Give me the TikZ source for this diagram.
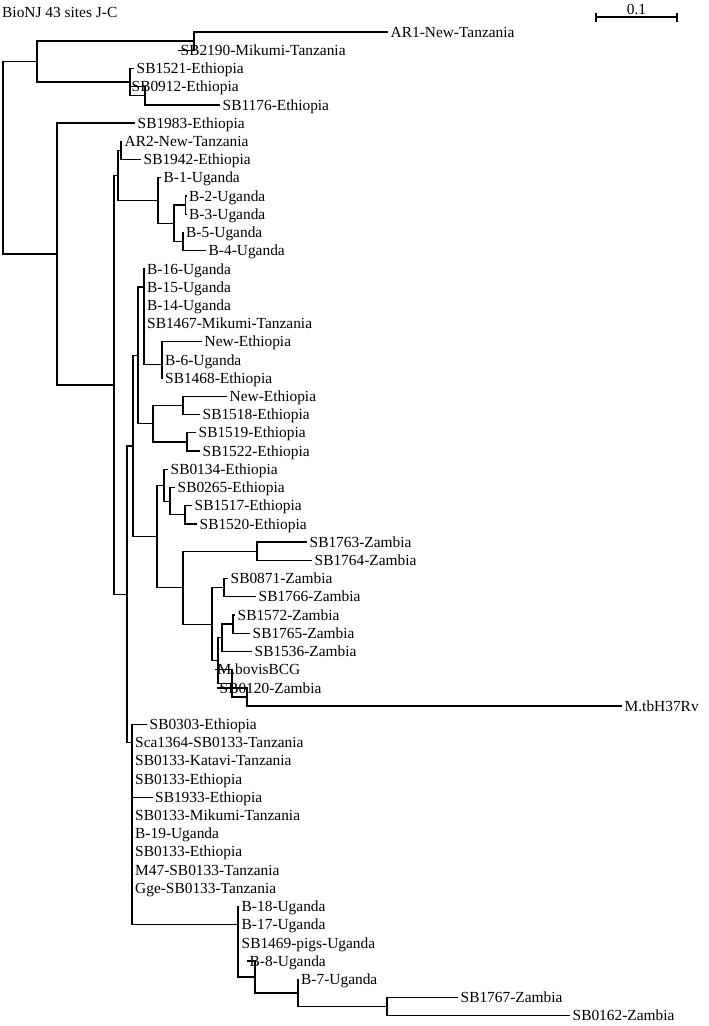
\documentclass[tikz,border=0pt]{standalone}
\usepackage{fontspec}
\setmainfont{Liberation Serif}
\begin{document}
\begin{tikzpicture}[x=1pt,y=-1pt,
  br/.style={line width=1.3pt, black},
  lbl/.style={anchor=west, inner xsep=2.5pt, inner ysep=0pt, text height=10.2pt, text depth=0pt},
  every node/.style={font=\fontsize{15.4}{18}\selectfont}]
\useasboundingbox (0,0) rectangle (709,1026);
% title and scale bar
\node[anchor=base west, inner sep=0pt] (title) at (2,17.5) {BioNJ 43 sites J-C};
\coordinate (sb1) at (596,17);
\coordinate (sb2) at (677,17);
\draw[br] (sb1) -- (sb2);
\draw[br] ([yshift=4.5pt]sb1) -- ([yshift=-4.5pt]sb1);
\draw[br] ([yshift=4.5pt]sb2) -- ([yshift=-4.5pt]sb2);
\node[anchor=base, inner sep=0pt] (sbl) at (636.5,14) {0.1};
% internal nodes
\coordinate (R0) at (3,157.8);
\coordinate (A) at (37,61.6);
\coordinate (A1) at (194,41.1);
\coordinate (C) at (130,82.1);
\coordinate (D) at (145,95.8);
\coordinate (B) at (57,254);
\coordinate (E) at (114,384.9);
\coordinate (F) at (118,175.5);
\coordinate (H) at (121,150.4);
\coordinate (I) at (158,200.5);
\coordinate (J) at (174,223.3);
\coordinate (K) at (185.5,205.1);
\coordinate (L) at (183,241.5);
\coordinate (G) at (127,594.3);
\coordinate (M) at (133,446);
\coordinate (N) at (138,355.4);
\coordinate (T) at (144,287.1);
\coordinate (U) at (162,364.5);
\coordinate (Q) at (153,423.7);
\coordinate (R) at (183,405.5);
\coordinate (S) at (187,441.9);
\coordinate (V) at (157,536.5);
\coordinate (W) at (164,485.2);
\coordinate (Y) at (170,501.2);
\coordinate (Z) at (185,514.8);
\coordinate (X) at (183,587.7);
\coordinate (AA) at (257,551.2);
\coordinate (BB) at (212,624.2);
\coordinate (CC) at (224,587.7);
\coordinate (GG) at (218,660.6);
\coordinate (EE) at (222,637.8);
\coordinate (FF) at (233,624.1);
\coordinate (HH) at (232,683.3);
\coordinate (II) at (247,697);
\coordinate (P) at (132,742.5);
\coordinate (JJ) at (238,924.7);
\coordinate (KK) at (255,977);
\coordinate (LL) at (298,993);
\coordinate (MM) at (387,1006.7);
% leaves
\node[lbl] (l1) at (388,32.0) {AR1-New-Tanzania};
\node[lbl] (l2) at (178,50.2) {SB2190-Mikumi-Tanzania};
\node[lbl] (l3) at (134,68.4) {SB1521-Ethiopia};
\node[lbl] (l4) at (129,86.7) {SB0912-Ethiopia};
\node[lbl] (l5) at (220,104.9) {SB1176-Ethiopia};
\node[lbl] (l6) at (135,123.1) {SB1983-Ethiopia};
\node[lbl] (l7) at (122,141.3) {AR2-New-Tanzania};
\node[lbl] (l8) at (141,159.5) {SB1942-Ethiopia};
\node[lbl] (l9) at (161,177.8) {B-1-Uganda};
\node[lbl] (l10) at (186.5,196.0) {B-2-Uganda};
\node[lbl] (l11) at (186.5,214.2) {B-3-Uganda};
\node[lbl] (l12) at (183.5,232.4) {B-5-Uganda};
\node[lbl] (l13) at (206,250.6) {B-4-Uganda};
\node[lbl] (l14) at (144.5,268.9) {B-16-Uganda};
\node[lbl] (l15) at (144.5,287.1) {B-15-Uganda};
\node[lbl] (l16) at (144.5,305.3) {B-14-Uganda};
\node[lbl] (l17) at (144.5,323.5) {SB1467-Mikumi-Tanzania};
\node[lbl] (l18) at (202,341.7) {New-Ethiopia};
\node[lbl] (l19) at (162.5,359.9) {B-6-Uganda};
\node[lbl] (l20) at (162.5,378.2) {SB1468-Ethiopia};
\node[lbl] (l21) at (227,396.4) {New-Ethiopia};
\node[lbl] (l22) at (200,414.6) {SB1518-Ethiopia};
\node[lbl] (l23) at (196,432.8) {SB1519-Ethiopia};
\node[lbl] (l24) at (200,451.0) {SB1522-Ethiopia};
\node[lbl] (l25) at (168,469.3) {SB0134-Ethiopia};
\node[lbl] (l26) at (175,487.5) {SB0265-Ethiopia};
\node[lbl] (l27) at (192,505.7) {SB1517-Ethiopia};
\node[lbl] (l28) at (197,523.9) {SB1520-Ethiopia};
\node[lbl] (l29) at (307,542.1) {SB1763-Zambia};
\node[lbl] (l30) at (312,560.3) {SB1764-Zambia};
\node[lbl] (l31) at (228,578.6) {SB0871-Zambia};
\node[lbl] (l32) at (256,596.8) {SB1766-Zambia};
\node[lbl] (l33) at (235,615.0) {SB1572-Zambia};
\node[lbl] (l34) at (250,633.2) {SB1765-Zambia};
\node[lbl] (l35) at (252,651.4) {SB1536-Zambia};
\node[lbl] (l36) at (215,669.7) {M.bovisBCG};
\node[lbl] (l37) at (217,687.9) {SB0120-Zambia};
\node[lbl] (l38) at (622,706.1) {M.tbH37Rv};
\node[lbl] (l39) at (147,724.3) {SB0303-Ethiopia};
\node[lbl] (l40) at (132.5,742.5) {Sca1364-SB0133-Tanzania};
\node[lbl] (l41) at (132.5,760.7) {SB0133-Katavi-Tanzania};
\node[lbl] (l42) at (132.5,779.0) {SB0133-Ethiopia};
\node[lbl] (l43) at (152.5,797.2) {SB1933-Ethiopia};
\node[lbl] (l44) at (132.5,815.4) {SB0133-Mikumi-Tanzania};
\node[lbl] (l45) at (132.5,833.6) {B-19-Uganda};
\node[lbl] (l46) at (132.5,851.8) {SB0133-Ethiopia};
\node[lbl] (l47) at (132.5,870.0) {M47-SB0133-Tanzania};
\node[lbl] (l48) at (132.5,888.3) {Gge-SB0133-Tanzania};
\node[lbl] (l49) at (239,906.5) {B-18-Uganda};
\node[lbl] (l50) at (239,924.7) {B-17-Uganda};
\node[lbl] (l51) at (239,942.9) {SB1469-pigs-Uganda};
\node[lbl] (l52) at (247,961.1) {B-8-Uganda};
\node[lbl] (l53) at (298.5,979.3) {B-7-Uganda};
\node[lbl] (l54) at (458,997.6) {SB1767-Zambia};
\node[lbl] (l55) at (570,1015.8) {SB0162-Zambia};
% internal edges
\foreach \p/\c in {R0/A,R0/B,A/A1,A/C,C/D,B/E,E/F,E/G,F/H,F/I,I/J,J/K,J/L,
  G/M,G/P,M/N,M/V,N/T,N/Q,T/U,Q/R,Q/S,V/W,V/X,W/Y,Y/Z,X/AA,X/BB,BB/CC,BB/GG,
  GG/EE,GG/HH,EE/FF,HH/II,P/JJ,JJ/KK,KK/LL,LL/MM}
  \draw[br] (\p) |- (\c);
% leaf edges
\foreach \p/\c in {A1/l1,A1/l2,C/l3,D/l4,D/l5,B/l6,H/l7,H/l8,I/l9,K/l10,K/l11,
  L/l12,L/l13,T/l14,T/l15,T/l16,T/l17,U/l18,U/l19,U/l20,R/l21,R/l22,S/l23,S/l24,
  W/l25,Y/l26,Z/l27,Z/l28,AA/l29,AA/l30,CC/l31,CC/l32,FF/l33,FF/l34,EE/l35,
  HH/l36,II/l37,II/l38,P/l39,P/l40,P/l41,P/l42,P/l43,P/l44,P/l45,P/l46,P/l47,
  P/l48,JJ/l49,JJ/l50,JJ/l51,KK/l52,LL/l53,MM/l54,MM/l55}
  \draw[br] (\p) |- (\c.west);
\end{tikzpicture}
\end{document}
